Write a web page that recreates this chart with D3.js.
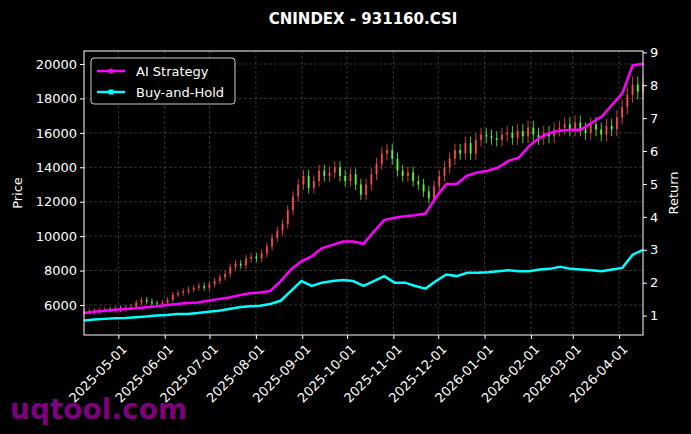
<!DOCTYPE html><html><head><meta charset="utf-8">
<script src="https://cdn.jsdelivr.net/npm/d3@7"></script>
<style>body{margin:0;background:#000}svg{display:block}</style></head><body>
<script>
const title = "CNINDEX - 931160.CSI";
const startDate = new Date(2025,3,8), endDate = new Date(2026,3,17);
const priceTicks = [6000,8000,10000,12000,14000,16000,18000,20000];
const returnTicks = [1,2,3,4,5,6,7,8,9];
const dateTicks = ["2025-05-01","2025-06-01","2025-07-01","2025-08-01","2025-09-01","2025-10-01","2025-11-01","2025-12-01","2026-01-01","2026-02-01","2026-03-01","2026-04-01"];
const closes = [5600,5650,5600,5700,5750,5700,5800,5750,5850,5900,6150,6300,6200,6100,6050,6150,6300,6600,6700,6800,6900,7000,7100,7000,7200,7400,7600,7800,8200,8400,8300,8700,8800,8700,9000,9400,9900,10300,10700,11500,12300,13000,13500,12800,13200,13800,13500,13700,14000,13500,13200,13600,13000,12400,13000,13600,14200,14800,15000,14500,13800,13500,13700,13200,13000,12600,12200,12900,13500,14000,14500,15000,14800,15400,14800,15600,15900,15800,15700,15600,15900,16000,15700,16100,15800,16300,15900,15700,16000,15800,16200,16300,16500,16200,16600,16200,16000,16500,16200,15900,16400,16200,16900,17500,18200,18800,18400,18800];
const aiStrategy = [1.08,1.12,1.15,1.18,1.2,1.22,1.25,1.28,1.32,1.35,1.38,1.4,1.45,1.5,1.55,1.62,1.68,1.7,1.75,2.05,2.4,2.65,2.8,3.05,3.15,3.25,3.25,3.18,3.55,3.9,3.97,4.02,4.05,4.1,4.6,5.0,5.0,5.25,5.35,5.4,5.5,5.7,5.8,6.15,6.4,6.55,6.62,6.65,6.65,6.85,7.05,7.4,7.75,8.6,8.65];
const buyHold = [0.85,0.88,0.9,0.92,0.93,0.95,0.97,1.0,1.02,1.05,1.05,1.08,1.12,1.15,1.2,1.25,1.28,1.3,1.35,1.45,1.75,2.05,1.9,2.0,2.05,2.08,2.05,1.9,2.05,2.2,2.0,2.0,1.9,1.82,2.05,2.25,2.2,2.3,2.3,2.32,2.35,2.38,2.35,2.35,2.4,2.42,2.48,2.42,2.4,2.38,2.35,2.4,2.45,2.85,3.0];

const W=691,H=434,L=84,R=643,T=51,B=335;
const svg=d3.select("body").append("svg").attr("width",W).attr("height",H).style("background","#000").style("font-family","DejaVu Sans");
const x=d3.scaleTime().domain([startDate,endDate]).range([L,R]);
const y=d3.scaleLinear().domain([4256,20756]).range([B,T]);
const y2=d3.scaleLinear().domain([0.41,9.04]).range([B,T]);
const span=endDate-startDate;
const dAt=(i,n)=>new Date(+startDate+span*i/(n-1));
const pd=d3.timeParse("%Y-%m-%d");
const g=svg.append("g");
priceTicks.forEach(v=>g.append("line").attr("x1",L).attr("x2",R).attr("y1",y(v)).attr("y2",y(v)));
dateTicks.forEach(s=>g.append("line").attr("x1",x(pd(s))).attr("x2",x(pd(s))).attr("y1",T).attr("y2",B));
g.selectAll("line").attr("stroke","#555").attr("stroke-dasharray","3,2").attr("stroke-width",0.6);
const cg=svg.append("g");
closes.forEach((c,i)=>{const o=i?closes[i-1]:c*0.99;const xx=x(dAt(i,closes.length));const col=c>=o?"#ff5050":"#66ff44";
 const hi=Math.max(o,c)*1.025,lo=Math.min(o,c)*0.975;
 cg.append("line").attr("x1",xx).attr("x2",xx).attr("y1",y(hi)).attr("y2",y(lo)).attr("stroke",col).attr("stroke-width",1).attr("opacity",0.8);
 cg.append("rect").attr("x",xx-1).attr("width",2).attr("y",y(Math.max(o,c))).attr("height",Math.max(1,y(Math.min(o,c))-y(Math.max(o,c)))).attr("fill",col).attr("opacity",0.8);});
const ln=d=>d3.line().x((v,i)=>x(dAt(i,d.length))).y(v=>y2(v))(d);
svg.append("path").attr("d",ln(buyHold)).attr("fill","none").attr("stroke","#00ffff").attr("stroke-width",2.5);
svg.append("path").attr("d",ln(aiStrategy)).attr("fill","none").attr("stroke","#ff00ff").attr("stroke-width",2.5);
svg.append("rect").attr("x",L).attr("y",T).attr("width",R-L).attr("height",B-T).attr("fill","none").attr("stroke","#fff").attr("stroke-width",1);
const ax=svg.append("g").attr("transform",`translate(${L},0)`).call(d3.axisLeft(y).tickValues(priceTicks).tickFormat(d3.format("d")).tickSize(4));
const ax2=svg.append("g").attr("transform",`translate(${R},0)`).call(d3.axisRight(y2).tickValues(returnTicks).tickSize(4));
const ax3=svg.append("g").attr("transform",`translate(0,${B})`).call(d3.axisBottom(x).tickValues(dateTicks.map(pd)).tickFormat(d3.timeFormat("%Y-%m-%d")).tickSize(4));
[ax,ax2,ax3].forEach(a=>{a.select(".domain").remove();a.selectAll("line").attr("stroke","#fff");a.selectAll("text").attr("fill","#fff").style("font-size","13px").style("font-family","DejaVu Sans");});
ax3.selectAll("text").attr("text-anchor","end").attr("dx",0).attr("dy",0).attr("transform","translate(4,10) rotate(-45)");
svg.append("text").text(title).attr("x",363).attr("y",24).attr("text-anchor","middle").attr("fill","#fff").style("font-size","15px").style("font-weight","bold");
svg.append("text").text("Price").attr("transform","translate(22,193) rotate(-90)").attr("text-anchor","middle").attr("fill","#fff").style("font-size","13px");
svg.append("text").text("Return").attr("transform","translate(678,193) rotate(-90)").attr("text-anchor","middle").attr("fill","#fff").style("font-size","13px");
const lg=svg.append("g");
lg.append("rect").attr("x",91).attr("y",58).attr("width",144).attr("height",46).attr("rx",3).attr("fill","#000").attr("stroke","#ccc");
[["AI Strategy","#ff00ff","c"],["Buy-and-Hold","#00ffff","s"]].forEach((d,i)=>{const yy=71+i*21;
 lg.append("line").attr("x1",97).attr("x2",125).attr("y1",yy).attr("y2",yy).attr("stroke",d[1]).attr("stroke-width",2.5);
 if(d[2]=="c")lg.append("circle").attr("cx",111).attr("cy",yy).attr("r",2.5).attr("fill",d[1]);else lg.append("rect").attr("x",108.5).attr("y",yy-2.5).attr("width",5).attr("height",5).attr("fill",d[1]);
 lg.append("text").text(d[0]).attr("x",136).attr("y",yy+4.5).attr("fill","#fff").style("font-size","13px");});
svg.append("text").text("uqtool.com").attr("x",10).attr("y",419).attr("fill","#8b008b").style("font-size","28px").style("font-weight","bold").attr("opacity",0.9);
</script></body></html>
